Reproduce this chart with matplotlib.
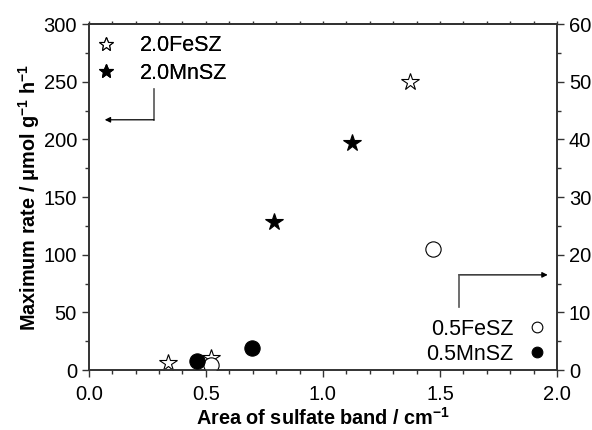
import matplotlib
matplotlib.use("Agg")
import matplotlib.pyplot as plt
from matplotlib.ticker import MultipleLocator

plt.rcParams['font.family'] = ['Liberation Sans', 'DejaVu Sans']
plt.rcParams['mathtext.default'] = 'regular'

# left axis: 2.0 wt% samples (stars)
fe20_x = [0.34, 0.52, 1.37]
fe20_y = [6, 10, 250]
mn20_x = [0.79, 1.125]
mn20_y = [128, 197]

# right axis: 0.5 wt% samples (circles)
fe05_x = [0.52, 1.47]
fe05_y = [0.8, 21]
mn05_x = [0.46, 0.695]
mn05_y = [1.6, 3.8]

AXC = '#333333'

fig = plt.figure(figsize=(5.92, 4.30), dpi=100)
ax = fig.add_axes([0.150, 0.1395, 0.791, 0.8045])
ax2 = ax.twinx()

s1, = ax.plot(fe20_x, fe20_y, ls='none', marker='*', ms=13, mfc='white',
              mec='black', mew=0.8, label='2.0FeSZ', clip_on=False)
s2, = ax.plot(mn20_x, mn20_y, ls='none', marker='*', ms=13, mfc='black',
              mec='black', mew=0.8, label='2.0MnSZ', clip_on=False)
c1, = ax2.plot(fe05_x, fe05_y, ls='none', marker='o', ms=11, mfc='white',
               mec='black', mew=0.8, label='0.5FeSZ', zorder=1)
c2, = ax2.plot(mn05_x, mn05_y, ls='none', marker='o', ms=11, mfc='black',
               mec='black', mew=0.8, label='0.5MnSZ', zorder=3)

ax.set_xlim(0, 2.0)
ax.set_ylim(0, 300)
ax2.set_ylim(0, 60)

ax.xaxis.set_major_locator(MultipleLocator(0.5))
ax.xaxis.set_minor_locator(MultipleLocator(0.1))
ax.yaxis.set_major_locator(MultipleLocator(50))
ax.yaxis.set_minor_locator(MultipleLocator(25))
ax2.yaxis.set_major_locator(MultipleLocator(10))
ax2.yaxis.set_minor_locator(MultipleLocator(5))

for a in (ax, ax2):
    a.tick_params(which='both', direction='out', color=AXC, width=1.0, labelsize=14.5)
    a.tick_params(which='major', length=5)
    a.tick_params(which='minor', length=3)
ax.tick_params(axis='x', which='major', pad=6)

top = ax.secondary_xaxis('top')
top.xaxis.set_major_locator(MultipleLocator(0.1))
top.tick_params(direction='out', length=2.5, color=AXC, width=1.0, labeltop=False)

for sp in list(ax.spines.values()) + list(ax2.spines.values()) + list(top.spines.values()):
    sp.set_linewidth(1.2)
    sp.set_color(AXC)

ax.set_xlabel('Area of sulfate band / cm$^{-1}$', fontsize=14.3, fontweight='bold', labelpad=2)
ax.set_ylabel('Maximum rate / \u03bcmol g$^{-1}$ h$^{-1}$', fontsize=14.3, fontweight='bold', labelpad=1)

leg1 = ax.legend(handles=[s1, s2], loc='upper left', bbox_to_anchor=(-0.0285, 1.017),
                 frameon=False, fontsize=15.5, markerscale=0.8, handlelength=1.2,
                 handletextpad=1.0, labelspacing=0.3, borderaxespad=0.4)
ax.add_artist(leg1)
leg2 = ax2.legend(handles=[c1, c2], loc='lower right', bbox_to_anchor=(1.017, -0.035),
                  frameon=False, fontsize=15.5, markerscale=0.7, markerfirst=False,
                  handlelength=1.0, handletextpad=0.6, labelspacing=0.2,
                  borderaxespad=0.4)

# arrows pointing to the axis each series belongs to
ax.annotate('', xy=(0.068, 217), xytext=(0.278, 217),
            arrowprops=dict(arrowstyle='-|>', color='black', lw=0.9,
                            mutation_scale=8, shrinkA=0, shrinkB=0))
ax.plot([0.278, 0.278], [217, 244], color='#555555', lw=1.2)
ax.annotate('', xy=(1.96, 16.5), xytext=(1.58, 16.5), xycoords=ax2.transData,
            textcoords=ax2.transData,
            arrowprops=dict(arrowstyle='-|>', color='black', lw=0.9,
                            mutation_scale=8, shrinkA=0, shrinkB=0))
ax2.plot([1.58, 1.58], [11, 16.5], color='#555555', lw=1.2)

fig.savefig('out.png', dpi=100)
